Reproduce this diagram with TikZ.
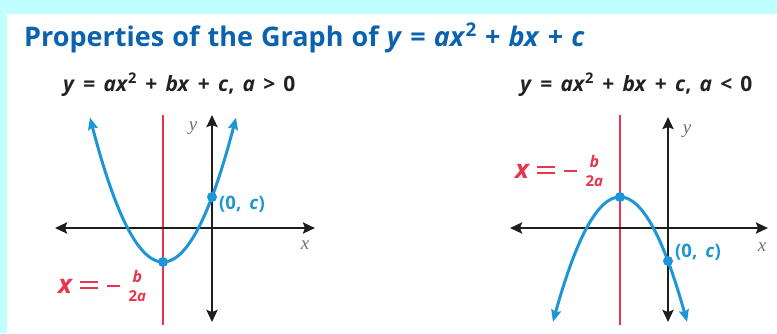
\documentclass[tikz,border=0pt]{standalone}
\usepackage{fontspec}
\setmainfont{Open Sans}
\newfontfamily\serifit{Liberation Serif}
\usetikzlibrary{arrows.meta}
\definecolor{bgcyan}{HTML}{BFFFFF}
\definecolor{titleblue}{HTML}{0B63B0}
\definecolor{curveblue}{HTML}{1E96D6}
\definecolor{axred}{HTML}{E8344C}
\definecolor{axisblack}{HTML}{1E1E1E}
\definecolor{labgray}{HTML}{707070}
\definecolor{subgray}{HTML}{222222}
\newcommand{\titlefnt}{\fontsize{27}{27}\selectfont\bfseries\spaceskip 8.1pt\relax}
\newcommand{\subfnt}{\fontsize{21}{21}\selectfont\bfseries\spaceskip 8.2pt\relax}
\newcommand{\ptfnt}{\fontsize{18.5}{18.5}\selectfont\bfseries\spaceskip 8pt\relax}
\newcommand{\eqfnt}{\fontsize{26}{26}\selectfont\bfseries}
\newcommand{\axfnt}{\fontsize{19}{19}\selectfont\serifit\itshape}
\tikzset{
  axisline/.style={draw=axisblack, line width=2.6pt, {Stealth[length=12pt,width=11pt,inset=2pt]}-{Stealth[length=12pt,width=11pt,inset=2pt]}},
  symline/.style={draw=axred, line width=2.2pt},
  curveline/.style={draw=curveblue, line width=3pt, line cap=round, {Stealth[length=12pt,width=10pt,inset=2pt]}-{Stealth[length=12pt,width=10pt,inset=2pt]}},
  keypt/.style={circle, fill=curveblue, inner sep=0pt, minimum size=10pt},
  axlabel/.style={inner sep=0pt, text=labgray, font=\axfnt},
  ptlabel/.style={inner sep=0pt, text=curveblue, font=\ptfnt},
  eqlabel/.style={inner sep=0pt, text=axred, font=\eqfnt},
  sublabel/.style={inner sep=0pt, text=subgray, font=\subfnt},
  titlelabel/.style={inner sep=0pt, text=titleblue, font=\titlefnt}
}
% red label pieces: long bold equals, minus and a stacked fraction b over 2a
\newcommand{\redeq}{\rlap{\rule[3.6pt]{18pt}{2.8pt}}\rule[9.6pt]{18pt}{2.8pt}}
\newcommand{\redminus}{\rule[5.6pt]{13pt}{2.8pt}}
\newcommand{\fracba}{\rlap{\makebox[22pt]{\raisebox{10.5pt}{\fontsize{16}{16}\selectfont\itshape b}}}\makebox[22pt]{\raisebox{-8pt}{\fontsize{15}{15}\selectfont 2\itshape a}}}
\newcommand{\axiseq}{\textit{x}\hspace{7pt}\redeq\hspace{9pt}\redminus\hspace{6pt}\fracba}
\begin{document}
\begin{tikzpicture}[x=1pt,y=-1pt]
\useasboundingbox (0,0) rectangle (777,333);
\fill[bgcyan] (0,0) rectangle (777,333);
\fill[white] (7,14) rectangle (777,333);

% title and subtitles
\node[titlelabel, anchor=base west] (title) at (24,46)
  {Properties of the Graph of \textit{y} = \textit{ax}\textsuperscript{2} + \textit{bx} + \textit{c}};
\node[sublabel, anchor=base west] (subL) at (63,91)
  {\textit{y} = \textit{ax}\textsuperscript{2} + \textit{bx} + \textit{c}, \textit{a} > 0};
\node[sublabel, anchor=base west] (subR) at (520,91)
  {\textit{y} = \textit{ax}\textsuperscript{2} + \textit{bx} + \textit{c}, \textit{a} < 0};

% ---------- left graph (a > 0) ----------
\coordinate (LxA) at (55,228);
\coordinate (LxB) at (315,228);
\coordinate (LyA) at (212,322);
\coordinate (LyB) at (212,115);
\coordinate (LsA) at (163,115);
\coordinate (LsB) at (163,325);
\draw[symline] (LsA) -- (LsB);
\draw[axisline] (LxA) -- (LxB);
\draw[axisline] (LyA) -- (LyB);
\draw[curveline] plot[domain=-73:73, samples=80, smooth] ({163+\x},{262-0.0271*\x*\x});
\node[keypt] (Lvert) at (163,262) {};
\node[keypt] (Lint) at (212,197) {};
\node[ptlabel, anchor=west] (Lintlab) at (219,204) {(0, \textit{c})};
\node[axlabel] (Lylab) at (193,128) {y};
\node[axlabel] (Lxlab) at (305,245) {x};
\node[eqlabel, anchor=base west] (Leq) at (58,293) {\axiseq};

% ---------- right graph (a < 0) ----------
\coordinate (RxA) at (510,228);
\coordinate (RxB) at (768,228);
\coordinate (RyA) at (668,322);
\coordinate (RyB) at (668,117);
\coordinate (RsA) at (620,115);
\coordinate (RsB) at (620,325);
\draw[symline] (RsA) -- (RsB);
\draw[axisline] (RxA) -- (RxB);
\draw[axisline] (RyA) -- (RyB);
\draw[curveline] plot[domain=-67:67, samples=80, smooth] ({620+\x},{197+0.0278*\x*\x});
\node[keypt] (Rvert) at (620,197) {};
\node[keypt] (Rint) at (668,261) {};
\node[ptlabel, anchor=west] (Rintlab) at (675,252) {(0, \textit{c})};
\node[axlabel] (Rylab) at (687,131) {y};
\node[axlabel] (Rxlab) at (762,247) {x};
\node[eqlabel, anchor=base west] (Req) at (515,178) {\axiseq};
\end{tikzpicture}
\end{document}
